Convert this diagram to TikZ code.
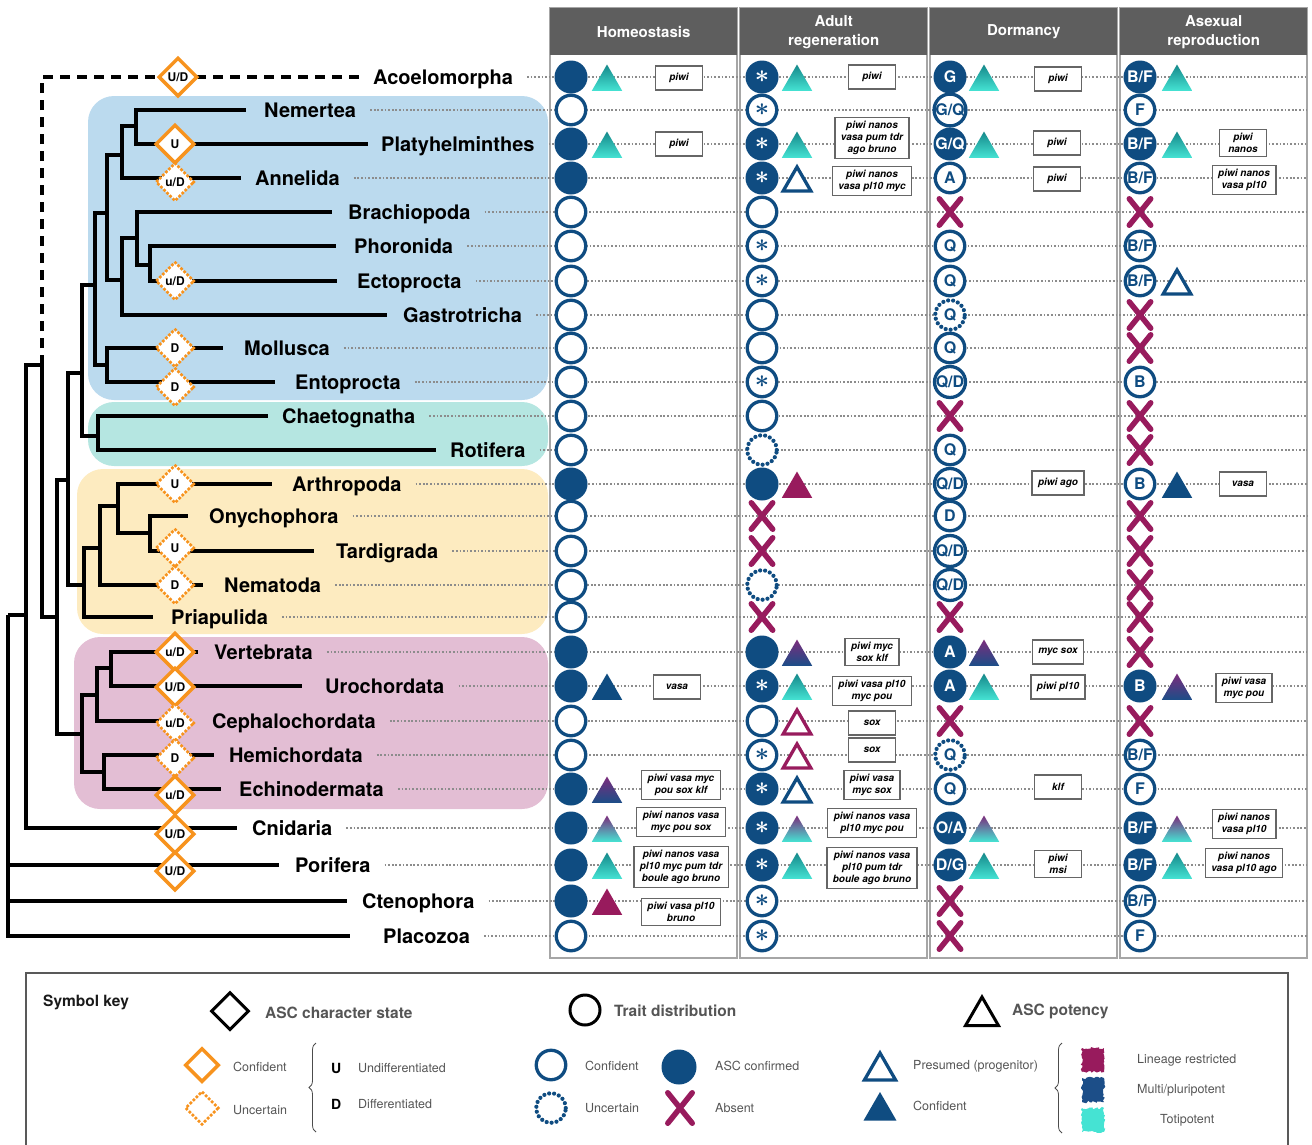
\documentclass[tikz,border=0pt]{standalone}
\usepackage{fontspec}
\setmainfont{TeX Gyre Heros}
\usepackage{tikz}
\usetikzlibrary{shapes.geometric,shapes.misc,decorations.pathreplacing,decorations.pathmorphing}
\definecolor{ascorange}{HTML}{F7931E}
\definecolor{ascblue}{HTML}{0F4C81}
\definecolor{absmag}{HTML}{981B5D}
\definecolor{totidark}{HTML}{15888A}
\definecolor{totilight}{HTML}{45E3D3}
\definecolor{linpurple}{HTML}{7C2C7C}
\definecolor{multiblue}{HTML}{1C4E88}
\definecolor{hdrgray}{HTML}{5E5E5E}
\definecolor{keygray}{HTML}{555555}
\definecolor{lophobg}{HTML}{BBDAEE}
\definecolor{gnathbg}{HTML}{B5E6E1}
\definecolor{ecdybg}{HTML}{FDEBC0}
\definecolor{deutbg}{HTML}{E3BED4}
\newcommand{\regast}{{\fontsize{24}{24}\selectfont\boldmath$\ast$}}
\tikzset{
  branch/.style={line width=4.5pt,black},
  dashbranch/.style={branch,dash pattern=on 10pt off 7pt},
  taxon/.style={anchor=west,inner sep=0pt,font=\fontsize{20}{20}\selectfont\bfseries,text height=14.4pt,text depth=0pt},
  rowdots/.style={line width=1.7pt,black!45,dash pattern=on 1.7pt off 1.9pt},
  cladebg/.style={rounded corners=26pt},
  stateconf/.style={diamond,draw=ascorange,line width=3.5pt,fill=white,minimum size=39pt,inner sep=0pt,font=\fontsize{12}{12}\selectfont\bfseries},
  stateunc/.style={stateconf,dash pattern=on 0pt off 4.3pt,line cap=round,line width=3.8pt},
  colframe/.style={draw=black!35,line width=1.5pt,fill=white},
  colhead/.style={fill=hdrgray,text=white,align=center,inner sep=0pt,font=\fontsize{15}{19}\selectfont\bfseries},
  confc/.style={circle,fill=ascblue,minimum size=33pt,inner sep=0pt,text=white,font=\fontsize{16}{16}\selectfont\bfseries},
  tracec/.style={circle,draw=ascblue,line width=3.3pt,fill=white,minimum size=29.5pt,inner sep=0pt,text=ascblue,font=\fontsize{16}{16}\selectfont\bfseries},
  uncc/.style={tracec,dash pattern=on 0pt off 5pt,line cap=round,line width=4.2pt},
  absx/.style={cross out,draw=absmag,line width=5.5pt,line cap=round,minimum width=16pt,minimum height=21pt,inner sep=0pt},
  tribase/.style={regular polygon,regular polygon sides=3,minimum size=35pt,inner sep=0pt,yshift=-5pt},
  tritoti/.style={tribase,top color=totidark,bottom color=totilight},
  trimulti/.style={tribase,fill=ascblue},
  trilin/.style={tribase,fill=absmag},
  trilinmulti/.style={tribase,top color=linpurple,bottom color=multiblue},
  trilintoti/.style={tribase,top color=linpurple,bottom color=totilight},
  tripres/.style={tribase,draw=ascblue,line width=3.3pt,fill=white,minimum size=32pt},
  tripreslin/.style={tripres,draw=absmag},
  genebox/.style={draw=black!60,line width=1.3pt,fill=white,align=center,font=\fontsize{10}{12}\selectfont\bfseries\itshape,minimum width=47pt,minimum height=24pt,inner xsep=6pt,inner ysep=4pt},
  keybox/.style={draw=black!65,line width=2pt},
  keytitle/.style={anchor=west,inner sep=0pt,text=keygray,font=\fontsize{15.5}{15.5}\selectfont\bfseries},
  keytext/.style={anchor=west,inner sep=0pt,text=keygray,font=\fontsize{12.5}{12.5}\selectfont},
  keybrace/.style={decorate,decoration={brace,amplitude=7pt},draw=black!70,line width=0.8pt},
  scribble/.style={decorate,decoration={random steps,segment length=2pt,amplitude=1.3pt}},
}
\def\rowy{{77,110,144,178,212,246,281,315,348,382,416,450,484,516,551,585,617,652,686,721,755,789,828,865,901,936}}

\begin{document}
\begin{tikzpicture}[x=1pt,y=-1pt]
  \useasboundingbox (0,0) rectangle (1312,1144);
  \fill[lophobg,cladebg] (88,96) rectangle (548,400);
  \fill[gnathbg,cladebg] (88,402) rectangle (548,466);
  \fill[ecdybg,cladebg] (77,469) rectangle (548,634);
  \fill[deutbg,cladebg] (74,637) rectangle (548,809);
  \foreach \cx/\hd in {550/Homeostasis,740/{Adult\\regeneration},930/Dormancy,1120/{Asexual\\reproduction}}{
    \draw[colframe] (\cx,8) rectangle ++(187,950);
    \node[colhead,minimum width=187pt,minimum height=47pt,anchor=north west] (head\cx) at (\cx,8) {\hd};
  }
  \foreach \i/\tx/\lx/\ex in {0/Acoelomorpha/373/361,1/Nemertea/264/246,2/Platyhelminthes/381/368,
      3/Annelida/255/241,4/Brachiopoda/348/332,5/Phoronida/354/336,6/Ectoprocta/357/337,
      7/Gastrotricha/403/387,8/Mollusca/244/223,9/Entoprocta/295/275,10/Chaetognatha/282/268,
      11/Rotifera/450/436,12/Arthropoda/292/272,13/Onychophora/209/188,14/Tardigrada/336/314,
      15/Nematoda/224/203,16/Priapulida/171/153,17/Vertebrata/214/198,18/Urochordata/325/302,
      19/Cephalochordata/212/160,20/Hemichordata/229/214,21/Echinodermata/239/221,
      22/Cnidaria/252/237,23/Porifera/295/279,24/Ctenophora/362/347,25/Placozoa/383/350}{
    \pgfmathsetmacro\y{\rowy[\i]}
    \coordinate (leaf\i) at (\ex,\y);
    \coordinate (rowend\i) at (1307,\y);
    \node[taxon] (lab\i) at (\lx,\y) {\tx};
    \draw[rowdots] ([xshift=14pt]lab\i.east) -- (rowend\i);
  }
  \coordinate (root) at (8,615);
  \coordinate (planulo) at (26,615);
  \coordinate (bilat) at (42,365);
  \coordinate (nephro) at (57,617);
  \coordinate (proto) at (68,480);
  \coordinate (spiral) at (82,373);
  \coordinate (lopho) at (95,285);
  \coordinate (lophA) at (107,213);
  \coordinate (lophB) at (122,155);
  \coordinate (lophD) at (136,126);
  \coordinate (lophC) at (122,280);
  \coordinate (lophE) at (137,238);
  \coordinate (lophF) at (150,265);
  \coordinate (mollent) at (107,365);
  \coordinate (gnath) at (98,436);
  \coordinate (ecdy) at (84,585);
  \coordinate (ecdyG) at (100,548);
  \coordinate (ecdyH) at (118,506);
  \coordinate (panarth) at (150,533);
  \coordinate (deut) at (82,734);
  \coordinate (chord) at (97,695);
  \coordinate (olfact) at (111,668);
  \coordinate (ambul) at (104,772);
  \draw[dashbranch] (bilat) |- (leaf0);
  \foreach \p/\c in {root/planulo,root/leaf23,root/leaf24,root/leaf25,planulo/bilat,planulo/leaf22,
      bilat/nephro,nephro/proto,nephro/deut,proto/spiral,proto/ecdy,spiral/lopho,spiral/gnath,
      lopho/lophA,lopho/mollent,lophA/lophB,lophA/lophC,lophB/lophD,lophB/leaf3,lophD/leaf1,lophD/leaf2,
      lophC/lophE,lophC/leaf7,lophE/leaf4,lophE/lophF,lophF/leaf5,lophF/leaf6,mollent/leaf8,mollent/leaf9,
      gnath/leaf10,gnath/leaf11,ecdy/ecdyG,ecdy/leaf16,ecdyG/ecdyH,ecdyG/leaf15,ecdyH/leaf12,ecdyH/panarth,
      panarth/leaf13,panarth/leaf14,deut/chord,deut/ambul,chord/olfact,chord/leaf19,olfact/leaf17,
      olfact/leaf18,ambul/leaf20,ambul/leaf21}
    \draw[branch] (\p) |- (\c);
  \foreach \dx/\dy/\st/\tx in {178/77/stateconf/{U/D},175/144/stateconf/U,175/182/stateunc/{u/D},
      175/281/stateunc/{u/D},175/348/stateunc/D,175/387/stateunc/D,175/484/stateunc/U,175/548/stateunc/U,
      175/585/stateunc/D,175/652/stateconf/{u/D},175/687/stateconf/{U/D},175/723/stateunc/{u/D},
      175/758/stateunc/D,175/795/stateconf/{u/D},175/834/stateconf/{U/D},175/871/stateconf/{U/D}}
    \node[\st] (asc\dy) at (\dx,\dy) {\tx};
  % homeostasis
  \foreach \i/\st/\tx in {0/confc/{},1/tracec/{},2/confc/{},3/confc/{},4/tracec/{},5/tracec/{},6/tracec/{},
      7/tracec/{},8/tracec/{},9/tracec/{},10/tracec/{},11/tracec/{},12/confc/{},13/tracec/{},14/tracec/{},
      15/tracec/{},16/tracec/{},17/confc/{},18/confc/{},19/tracec/{},20/tracec/{},21/confc/{},22/confc/{},
      23/confc/{},24/confc/{},25/tracec/{}}{
    \pgfmathsetmacro\y{\rowy[\i]}
    \node[\st] (hom\i) at (571,\y) {\tx};
  }
  % adult regeneration
  \foreach \i/\st/\tx in {0/confc/\regast,1/tracec/\regast,2/confc/\regast,3/confc/\regast,4/tracec/{},
      5/tracec/\regast,6/tracec/\regast,7/tracec/{},8/tracec/{},9/tracec/\regast,10/tracec/{},11/uncc/{},
      12/confc/{},13/absx/{},14/absx/{},15/uncc/{},16/absx/{},17/confc/{},18/confc/\regast,19/tracec/{},
      20/tracec/\regast,21/confc/\regast,22/confc/\regast,23/confc/\regast,24/tracec/\regast,25/tracec/\regast}{
    \pgfmathsetmacro\y{\rowy[\i]}
    \node[\st] (reg\i) at (762,\y) {\tx};
  }
  % dormancy
  \foreach \i/\st/\tx in {0/confc/G,1/tracec/{G/Q},2/confc/{G/Q},3/tracec/A,4/absx/{},5/tracec/Q,6/tracec/Q,
      7/uncc/Q,8/tracec/Q,9/tracec/{Q/D},10/absx/{},11/tracec/Q,12/tracec/{Q/D},13/tracec/D,14/tracec/{Q/D},
      15/tracec/{Q/D},16/absx/{},17/confc/A,18/confc/A,19/absx/{},20/uncc/Q,21/tracec/Q,22/confc/{O/A},
      23/confc/{D/G},24/absx/{},25/absx/{}}{
    \pgfmathsetmacro\y{\rowy[\i]}
    \node[\st] (dor\i) at (950,\y) {\tx};
  }
  % asexual reproduction
  \foreach \i/\st/\tx in {0/confc/{B/F},1/tracec/F,2/confc/{B/F},3/tracec/{B/F},4/absx/{},5/tracec/{B/F},
      6/tracec/{B/F},7/absx/{},8/absx/{},9/tracec/B,10/absx/{},11/absx/{},12/tracec/B,13/absx/{},
      14/absx/{},15/absx/{},16/absx/{},17/absx/{},18/confc/B,19/absx/{},20/tracec/{B/F},21/tracec/F,
      22/confc/{B/F},23/confc/{B/F},24/tracec/{B/F},25/tracec/F}{
    \pgfmathsetmacro\y{\rowy[\i]}
    \node[\st] (asx\i) at (1140,\y) {\tx};
  }
  \foreach \tx/\i/\st in {607/0/tritoti,607/2/tritoti,607/18/trimulti,607/21/trilinmulti,607/22/trilintoti,
      607/23/tritoti,607/24/trilin,797/0/tritoti,797/2/tritoti,797/3/tripres,797/12/trilin,
      797/17/trilinmulti,797/18/tritoti,797/19/tripreslin,797/20/tripreslin,797/21/tripres,
      797/22/trilintoti,797/23/tritoti,984/0/tritoti,984/2/tritoti,984/17/trilinmulti,984/18/tritoti,
      984/22/trilintoti,984/23/tritoti,1177/0/tritoti,1177/2/tritoti,1177/6/tripres,1177/12/trimulti,
      1177/18/trilinmulti,1177/22/trilintoti,1177/23/tritoti}{
    \pgfmathsetmacro\y{\rowy[\i]}
    \node[\st] (tri\tx-\i) at (\tx,\y) {};
  }
  \foreach \bx/\by/\genes in {679/78/piwi,679/144/piwi,677/687/vasa,681/785/{piwi vasa myc\\pou sox klf},
      681/822/{piwi nanos vasa\\myc pou sox},681/867/{piwi nanos vasa\\pl10 myc pum tdr\\boule ago bruno},
      681/912/{piwi vasa pl10\\bruno},
      872/77/piwi,872/138/{piwi nanos\\vasa pum tdr\\ago bruno},872/181/{piwi nanos\\vasa pl10 myc},
      872/652/{piwi myc\\sox klf},872/691/{piwi vasa pl10\\myc pou},872/723/sox,872/750/sox,
      872/785/{piwi vasa\\myc sox},872/823/{piwi nanos vasa\\pl10 myc pou},
      872/868/{piwi nanos vasa\\pl10 pum tdr\\boule ago bruno},
      1058/79/piwi,1057/143/piwi,1057/179/piwi,1058/483/{piwi ago},1058/652/{myc sox},
      1058/687/{piwi pl10},1058/787/klf,1058/864/{piwi\\msi},
      1243/143/{piwi\\nanos},1244/180/{piwi nanos\\vasa pl10},1243/484/vasa,1244/688/{piwi vasa\\myc pou},
      1244/824/{piwi nanos\\vasa pl10},1244/863/{piwi nanos\\vasa pl10 ago}}
    \node[genebox] (gene\bx-\by) at (\bx,\by) {\genes};
  % symbol key
  \draw[keybox] (26,1160) -- (26,973) -- (1288,973) -- (1288,1160);
  \node[keytitle,text=black!90] (keyhead) at (43,1002) {Symbol key};
  \node[diamond,draw=black,line width=3pt,minimum size=38pt,inner sep=0pt] (kdia) at (230,1011) {};
  \node[keytitle] (kdiatx) at (265,1013) {ASC character state};
  \node[circle,draw=black,line width=3pt,minimum size=30pt,inner sep=0pt] (kcirc) at (585,1010) {};
  \node[keytitle] (kcirctx) at (614,1011) {Trait distribution};
  \node[regular polygon,regular polygon sides=3,draw=black,line width=3pt,minimum size=38pt,inner sep=0pt,yshift=-5pt] (ktri) at (982,1011) {};
  \node[keytitle] (ktritx) at (1012,1011) {ASC potency};
  \node[stateconf,minimum size=34pt] (kconf) at (202,1065) {};
  \node[keytext] (kconftx) at (233,1067) {Confident};
  \node[stateunc,minimum size=34pt] (kunc) at (202,1108) {};
  \node[keytext] (kunctx) at (233,1110) {Uncertain};
  \draw[keybrace] (316,1132) -- (316,1043);
  \node[keytext,text=black,font=\fontsize{14}{14}\selectfont\bfseries] (kU) at (331,1068) {U};
  \node[keytext] (kUtx) at (358,1068) {Undifferentiated};
  \node[keytext,text=black,font=\fontsize{14}{14}\selectfont\bfseries] (kD) at (331,1104) {D};
  \node[keytext] (kDtx) at (358,1104) {Differentiated};
  \node[tracec] (ktrace) at (551,1065) {};
  \node[keytext] (ktracetx) at (585,1066) {Confident};
  \node[uncc] (kuncc) at (551,1108) {};
  \node[keytext] (kuncctx) at (585,1108) {Uncertain};
  \node[confc,minimum size=35pt] (kconfc) at (679,1067) {};
  \node[keytext] (kconfctx) at (715,1066) {ASC confirmed};
  \node[absx,minimum width=19pt,minimum height=25pt] (kabs) at (680,1108) {};
  \node[keytext] (kabstx) at (715,1108) {Absent};
  \node[tripres,minimum size=36pt] (kpres) at (880,1066) {};
  \node[keytext] (kprestx) at (913,1066) {Presumed (progenitor)};
  \node[trimulti,minimum size=38pt] (kfull) at (880,1106) {};
  \node[keytext] (kfulltx) at (913,1106) {Confident};
  \draw[keybrace] (1062,1133) -- (1062,1043);
  \fill[absmag,scribble] (1082,1048) rectangle (1104,1072);
  \fill[multiblue,scribble] (1082,1078) rectangle (1104,1102);
  \fill[totilight,scribble] (1082,1108) rectangle (1104,1132);
  \node[keytext] (klin) at (1137,1060) {Lineage restricted};
  \node[keytext] (kmulti) at (1137,1090) {Multi/pluripotent};
  \node[keytext] (ktoti) at (1160,1120) {Totipotent};
\end{tikzpicture}
\end{document}
